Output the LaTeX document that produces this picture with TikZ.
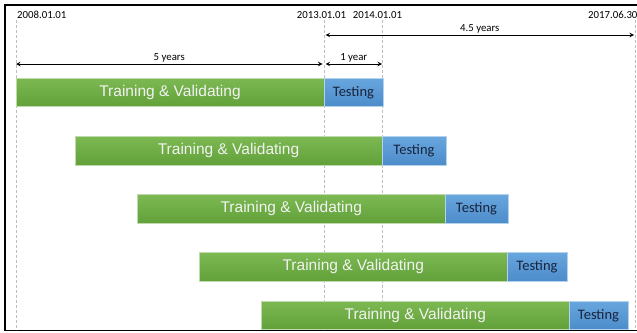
\documentclass[tikz,border=0pt]{standalone}
\usepackage{fontspec}
\newfontfamily\calibri{Carlito}
\newfontfamily\arial{Liberation Sans}
\usepackage{tikz}
\usetikzlibrary{calc, positioning, arrows.meta}
\tikzset{>=stealth}
\usepackage{xcolor}
\definecolor{trgreen}{RGB}{112,173,71}
\definecolor{trgreenlt}{RGB}{124,185,82}
\definecolor{trgreendk}{RGB}{98,160,58}
\definecolor{tsblue}{RGB}{91,155,213}
\definecolor{tsbluelt}{RGB}{104,166,222}
\definecolor{tsbluedk}{RGB}{76,140,202}
\definecolor{tsnavy}{RGB}{25,35,60}
\definecolor{guidegray}{RGB}{190,190,190}
\tikzset{
  trainbar/.style={anchor=north west, inner sep=0pt, outer sep=0pt, minimum height=28.5pt,
    top color=trgreenlt, bottom color=trgreendk, draw=trgreen!45!white, line width=0.6pt,
    text=white!95!black, font=\arial\fontsize{15.5}{18}\selectfont},
  testbar/.style={anchor=north west, inner sep=0pt, outer sep=0pt, minimum height=28.5pt,
    top color=tsbluelt, bottom color=tsbluedk, draw=tsblue!45!white, line width=0.6pt,
    text=tsnavy, font=\calibri\fontsize{14.5}{17}\selectfont},
  datelbl/.style={inner sep=0pt, font=\calibri\fontsize{10.8}{12}\selectfont},
  spanlbl/.style={above, inner sep=1.5pt, font=\calibri\fontsize{10.8}{12}\selectfont},
  guide/.style={guidegray, dashed, dash pattern=on 3pt off 2pt, line width=0.6pt},
  span/.style={<->, line width=1pt}
}

\begin{document}
\begin{tikzpicture}[x=1pt, y=-1pt]
  \useasboundingbox (0,0) rectangle (637,332);
  % frame
  \draw [line width=1.3pt] (637,5) -- (5,5) -- (5,330.5) -- (637,330.5);
  % dates
  \node [datelbl, anchor=base west] (d2008) at (17,18) {2008.01.01};
  \node [datelbl, anchor=base] (d2013) at (321.5,18) {2013.01.01};
  \node [datelbl, anchor=base] (d2014) at (377.5,18) {2014.01.01};
  \node [datelbl, anchor=base west] (d2017) at (588,18) {2017.06.30};
  % guide lines
  \foreach \gx/\gn in {16/a, 324/b, 382.5/c, 635/d} {
    \coordinate (top\gn) at (\gx,20);
    \coordinate (bot\gn) at (\gx,330);
    \draw [guide] (top\gn) -- (bot\gn);
  }
  % spans
  \coordinate (s1) at (16,64);
  \coordinate (s2) at (322.5,64);
  \coordinate (s3) at (325.5,64);
  \coordinate (s4) at (382,64);
  \coordinate (s5) at (325.5,35);
  \coordinate (s6) at (634,35);
  \draw [span] (s1) -- node[spanlbl] (five) {5 years} (s2);
  \draw [span] (s3) -- node[spanlbl] (one) {1 year} (s4);
  \draw [span] (s5) -- node[spanlbl] (fourhalf) {4.5 years} (s6);
  % bars
  \foreach \xa/\xb/\xc/\ya/\n in {16/324/383/78/1, 75/382/446/136.5/2, 137.5/445/508/194.5/3,
                                  199.5/507/567/252.5/4, 261.5/569/628/301/5} {
    \node [trainbar, minimum width={(\xb-\xa)*1pt}] (train\n) at (\xa,\ya) {Training \& Validating};
    \node [testbar, minimum width={(\xc-\xb)*1pt}] (test\n) at (train\n.north east) {Testing};
  }
\end{tikzpicture}
\end{document}
